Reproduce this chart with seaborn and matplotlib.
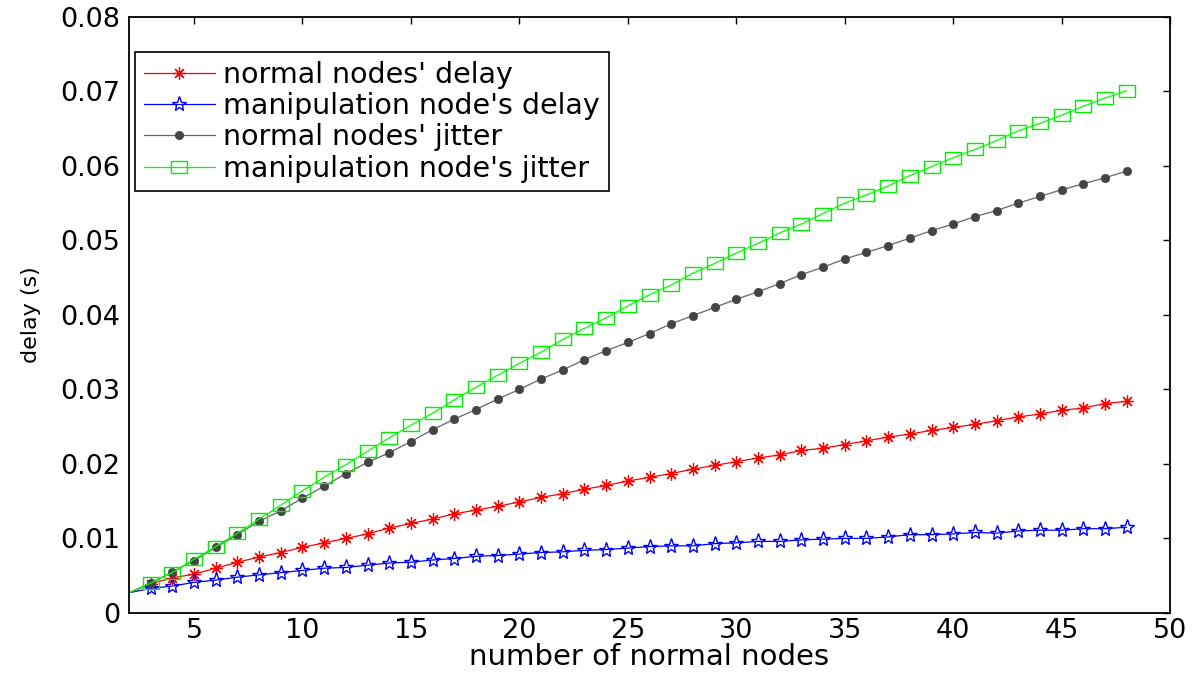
import numpy as np
import pandas as pd
import matplotlib
matplotlib.use("Agg")
import matplotlib.pyplot as plt
import seaborn as sns

# number of normal nodes in the network
nodes = list(range(2, 49))

normal_delay = [
    0.0027, 0.0039, 0.0047, 0.0052, 0.0060, 0.0068, 0.0075, 0.0081, 0.0088, 0.0094,
    0.0100, 0.0106, 0.0114, 0.0120, 0.0126, 0.0133, 0.0138, 0.0143, 0.0149, 0.0155,
    0.0160, 0.0166, 0.0171, 0.0177, 0.0182, 0.0187, 0.0193, 0.0198, 0.0203, 0.0208,
    0.0212, 0.0218, 0.0221, 0.0226, 0.0231, 0.0236, 0.0240, 0.0245, 0.0249, 0.0253,
    0.0258, 0.0263, 0.0267, 0.0272, 0.0275, 0.0281, 0.0284,
]
manipulation_delay = [
    0.0027, 0.0033, 0.0036, 0.0041, 0.0044, 0.0048, 0.0051, 0.0054, 0.0057, 0.0060,
    0.0061, 0.0064, 0.0067, 0.0068, 0.0071, 0.0073, 0.0076, 0.0077, 0.0079, 0.0081,
    0.0082, 0.0084, 0.0085, 0.0087, 0.0089, 0.0090, 0.0090, 0.0093, 0.0094, 0.0096,
    0.0096, 0.0098, 0.0099, 0.0100, 0.0100, 0.0102, 0.0105, 0.0105, 0.0106, 0.0108,
    0.0107, 0.0110, 0.0111, 0.0111, 0.0113, 0.0113, 0.0115,
]
normal_jitter = [
    0.0027, 0.0040, 0.0055, 0.0070, 0.0088, 0.0105, 0.0123, 0.0137, 0.0154, 0.0170,
    0.0187, 0.0202, 0.0215, 0.0230, 0.0246, 0.0260, 0.0273, 0.0287, 0.0300, 0.0314,
    0.0326, 0.0340, 0.0352, 0.0363, 0.0375, 0.0388, 0.0399, 0.0410, 0.0421, 0.0431,
    0.0442, 0.0454, 0.0464, 0.0475, 0.0484, 0.0493, 0.0503, 0.0513, 0.0522, 0.0532,
    0.0540, 0.0550, 0.0559, 0.0568, 0.0576, 0.0584, 0.0593,
]
manipulation_jitter = [
    0.0027, 0.0040, 0.0054, 0.0072, 0.0089, 0.0107, 0.0126, 0.01445, 0.0164, 0.0182,
    0.0199, 0.0217, 0.0235, 0.0252, 0.0268, 0.0286, 0.0303, 0.0319, 0.0335, 0.0350,
    0.0367, 0.0382, 0.0396, 0.0412, 0.0427, 0.0440, 0.0456, 0.0469, 0.0483, 0.0496,
    0.0510, 0.0522, 0.0536, 0.0550, 0.0561, 0.0573, 0.0587, 0.0599, 0.0611, 0.0622,
    0.0634, 0.0647, 0.0657, 0.0668, 0.0680, 0.0691, 0.0701,
]

series_labels = [
    "normal nodes' delay",
    "manipulation node's delay",
    "normal nodes' jitter",
    "manipulation node's jitter",
]
x_ticks = [5, 10, 15, 20, 25, 30, 35, 40, 45, 50]
y_ticks = [0, 0.01, 0.02, 0.03, 0.04, 0.05, 0.06, 0.07, 0.08]
y_tick_labels = ["0", "0.01", "0.02", "0.03", "0.04", "0.05", "0.06", "0.07", "0.08"]

sns.set_theme(style="white")
plt.rcParams["font.family"] = ["DejaVu Sans"]
plt.rcParams["text.color"] = "black"
plt.rcParams["axes.labelcolor"] = "black"

# open rectangle, slightly wider than tall
rect_marker = [(-1.3, -1.0), (1.3, -1.0), (1.3, 1.0), (-1.3, 1.0), (-1.3, -1.0)]

styles = [
    dict(color="#ff0000", marker=(8, 2, 0), markersize=9, mec="#ff0000", mfc="#ff0000", mew=0.9),
    dict(color="#0000ff", marker="*", markersize=11, mec="#0000ff", mfc="none", mew=1.0),
    dict(color="#666666", marker="o", markersize=6, mec="#444444", mfc="#444444", mew=0.5),
    dict(color="#00ff00", marker=rect_marker, markersize=11, mec="#00ee00", mfc="none", mew=1.0),
]
values = [normal_delay, manipulation_delay, normal_jitter, manipulation_jitter]

fig = plt.figure(figsize=(11.94, 6.75), dpi=100)
ax = fig.add_axes([0.108, 0.092, 0.872, 0.883])

for label, vals, st in zip(series_labels, values, styles):
    df = pd.DataFrame({"nodes": nodes, "delay": vals})
    sns.lineplot(
        data=df, x="nodes", y="delay", ax=ax, label=label,
        linewidth=0.9, markevery=list(range(1, len(nodes))), **st,
    )

ax.set_xlim(2, 50)
ax.set_ylim(0, 0.08)
ax.set_xticks(x_ticks)
ax.set_xticklabels([str(t) for t in x_ticks])
ax.set_yticks(y_ticks)
ax.set_yticklabels(y_tick_labels)
ax.tick_params(axis="both", direction="in", length=5, width=1, labelsize=19.5,
               colors="black", top=True, right=True, pad=6)
ax.tick_params(axis="x", pad=4)

for sp in ax.spines.values():
    sp.set_visible(True)
    sp.set_color("black")
    sp.set_linewidth(1.3)

ax.set_xlabel("number of normal nodes", fontsize=21, labelpad=-1)
ax.set_ylabel("delay (s)", fontsize=16, labelpad=14)

leg = ax.legend(
    loc="upper left", bbox_to_anchor=(0.006, 0.941), borderaxespad=0,
    fontsize=20.5, frameon=True, fancybox=False, edgecolor="black",
    handlelength=2.5, handletextpad=0.3, labelspacing=0.12, borderpad=0.3,
)
leg.get_frame().set_linewidth(1.2)
leg.get_frame().set_alpha(1)
for t in leg.get_texts():
    t.set_color("black")

fig.savefig("out.png", dpi=100, facecolor="white")
